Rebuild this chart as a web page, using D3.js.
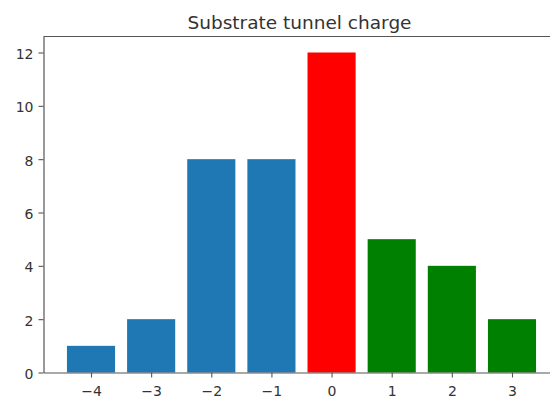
<!DOCTYPE html>
<html>
<head>
<meta charset="utf-8">
<script src="https://cdn.jsdelivr.net/npm/d3@7"></script>
<style>
  html, body { margin: 0; padding: 0; background: #fff; }
  svg { display: block; font-family: "DejaVu Sans", sans-serif; }
</style>
</head>
<body>
<svg id="chart" width="550" height="399"></svg>
<script>
const categories = [-4, -3, -2, -1, 0, 1, 2, 3];
const values = [1, 2, 8, 8, 12, 5, 4, 2];
const barColors = ["#1f77b4", "#1f77b4", "#1f77b4", "#1f77b4", "#ff0000", "#008000", "#008000", "#008000"];
const yTicks = [0, 2, 4, 6, 8, 10, 12];
const title = "Substrate tunnel charge";

const svg = d3.select("#chart");
const mLeft = 43.5, mRight = 559.5, mTop = 36.5, mBottom = 372.5;
const barWidth = 0.8;

const x = d3.scaleLinear().domain([-4.79, 3.79]).range([mLeft, mRight]);
const y = d3.scaleLinear().domain([0, 12.6]).range([mBottom, mTop]);

const textColor = "#333";
const axisColor = "#555";

svg.append("g").selectAll("rect")
  .data(categories)
  .join("rect")
  .attr("x", (d) => x(d - barWidth / 2))
  .attr("width", (d) => x(d + barWidth / 2) - x(d - barWidth / 2))
  .attr("y", (d, i) => y(values[i]))
  .attr("height", (d, i) => y(0) - y(values[i]))
  .attr("fill", (d, i) => barColors[i]);

const fmt = (d) => (d < 0 ? "\u2212" + Math.abs(d) : String(d));

const xAxis = svg.append("g")
  .attr("transform", `translate(0,${mBottom})`)
  .call(d3.axisBottom(x).tickValues(categories).tickFormat(fmt).tickSize(5).tickPadding(9).tickSizeOuter(0));
const yAxis = svg.append("g")
  .attr("transform", `translate(${mLeft},0)`)
  .call(d3.axisLeft(y).tickValues(yTicks).tickFormat(fmt).tickSize(5).tickPadding(5).tickSizeOuter(0));

[xAxis, yAxis].forEach((g) => {
  g.select(".domain").attr("stroke", axisColor).attr("stroke-width", 1.2);
  g.selectAll(".tick line").attr("stroke", axisColor).attr("stroke-width", 1.1);
  g.selectAll(".tick text").attr("fill", textColor).style("font-size", "14px").style("font-family", "DejaVu Sans");
});
yAxis.selectAll(".tick text").attr("dy", "0.42em");

svg.append("line")
  .attr("x1", mLeft).attr("x2", mRight)
  .attr("y1", mTop).attr("y2", mTop)
  .attr("stroke", axisColor).attr("stroke-width", 1.2);

svg.append("text")
  .attr("x", 299.5)
  .attr("y", 28.5)
  .attr("text-anchor", "middle")
  .attr("fill", textColor)
  .style("font-size", "18.5px")
  .text(title);
</script>
</body>
</html>
